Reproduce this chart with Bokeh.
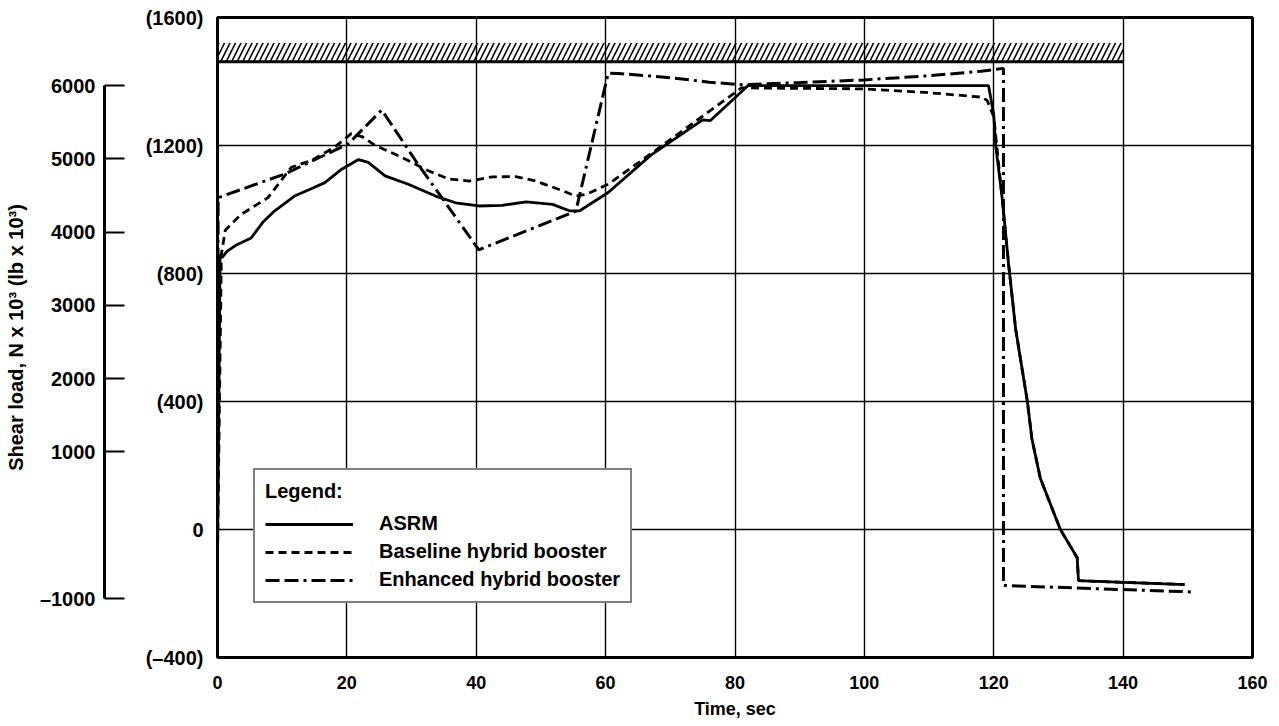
from bokeh.plotting import figure
from bokeh.models import (Range1d, LinearAxis, FixedTicker, Legend, LegendItem)
from bokeh.embed import file_html
from bokeh.resources import INLINE

FONT = "Liberation Sans"

# Shear load histories, time in sec, load in lb x 10^3
asrm_t = [0, 0.4, 0.7, 1.5, 3.0, 5.2, 7.0, 8.8, 11.9, 14.5, 16.6, 19.2, 21.8, 23.3,
          25.9, 29.5, 33.7, 36.8, 40.4, 44.0, 47.7, 51.8, 54.4, 56.0, 60.4, 67.0,
          75.0, 76.2, 82.0, 100.0, 119.2, 120.0, 120.3, 121.3, 122.3, 123.4, 125.2,
          125.9, 127.2, 128.8, 130.3, 132.9, 133.1, 140.0, 149.5]
asrm_lb = [-85, 860, 850, 870, 890, 911, 960, 995, 1042, 1065, 1084, 1126, 1156, 1147,
           1105, 1079, 1042, 1021, 1011, 1013, 1024, 1016, 996, 996, 1053, 1170,
           1280, 1278, 1387, 1387, 1387, 1296, 1200, 1036, 828, 624, 400,
           283, 160, 77, 0, -88, -160, -165, -172]

base_t = [0, 0.6, 1.2, 3.6, 7.8, 11.4, 14.5, 18.1, 20.7, 22.3, 24.4, 28.5, 32.6, 35.8,
          38.9, 42.5, 46.1, 49.2, 53.4, 55.4, 57.0, 60.4, 67.4, 81.0, 100.0, 109.4,
          118.2, 119.0, 120.0, 121.3, 122.3, 123.4, 125.2, 125.9, 127.2, 128.8,
          130.3, 132.9, 133.1, 140.0, 149.5]
base_lb = [-85, 860, 935, 984, 1037, 1132, 1153, 1195, 1237, 1228, 1200, 1163, 1121, 1095,
           1089, 1102, 1103, 1089, 1058, 1042, 1047, 1079, 1180, 1380, 1377, 1366,
           1351, 1340, 1290, 1036, 828, 624, 400, 283, 160, 77,
           0, -88, -160, -165, -172]

enh_t = [0, 0.1, 10.4, 20.2, 25.4, 30.6, 40.4, 55.4, 60.4, 62.0, 70.0, 76.0, 81.0,
         90.0, 100.0, 110.0, 118.0, 121.5, 121.5, 150.5]
enh_lb = [-85, 1037, 1111, 1205, 1311, 1153, 874, 995, 1426, 1425, 1412, 1398, 1390,
          1397, 1405, 1418, 1432, 1441, -175, -195]

# Structural limit band
limit_t = [0, 140]
limit_lb = 1462
limit_band_top = 1520

x_ticks = [0, 20, 40, 60, 80, 100, 120, 140, 160]
lb_ticks = [-400, 0, 400, 800, 1200, 1600]
lb_labels = ["(\u2013400)", "0", "(400)", "(800)", "(1200)", "(1600)"]
n_ticks = [-1000, 1000, 2000, 3000, 4000, 5000, 6000]
n_labels = ["\u20131000", "1000", "2000", "3000", "4000", "5000", "6000"]

p = figure(width=1279, height=726, x_range=Range1d(0, 160), y_range=Range1d(-400, 1600),
           output_backend="svg", toolbar_location=None,
           min_border_left=217, min_border_right=27, min_border_top=17,
           min_border_bottom=69, background_fill_color="white",
           border_fill_color="white")

p.outline_line_color = "black"
p.outline_line_width = 3

# grid
p.xgrid.ticker = FixedTicker(ticks=x_ticks[1:-1])
p.ygrid.ticker = FixedTicker(ticks=lb_ticks[1:-1])
for g in (p.xgrid[0], p.ygrid[0]):
    g.grid_line_color = "black"
    g.grid_line_width = 1.4

# x axis
xa = p.xaxis[0]
xa.ticker = FixedTicker(ticks=x_ticks)
xa.axis_line_color = None
xa.major_tick_line_color = None
xa.minor_tick_line_color = None
xa.major_tick_out = 0
xa.major_tick_in = 0
xa.major_label_standoff = 18
xa.major_label_text_font = FONT
xa.major_label_text_font_style = "bold"
xa.major_label_text_font_size = "18px"
xa.major_label_text_color = "black"
xa.axis_label = "Time, sec"
xa.axis_label_standoff = 7
xa.axis_label_text_font = FONT
xa.axis_label_text_font_style = "bold"
xa.axis_label_text_font_size = "18px"
xa.axis_label_text_color = "black"

# lb axis next to the frame
ya = p.yaxis[0]
ya.ticker = FixedTicker(ticks=lb_ticks)
ya.major_label_overrides = {t: s for t, s in zip(lb_ticks, lb_labels)}
ya.axis_line_color = None
ya.major_tick_line_color = None
ya.minor_tick_line_color = None
ya.major_tick_out = 0
ya.major_tick_in = 0
ya.major_label_standoff = 14
ya.major_label_text_font = FONT
ya.major_label_text_font_style = "bold"
ya.major_label_text_font_size = "20px"
ya.major_label_text_color = "black"

# blank strip between the two load scales (white tick on white border)
gap = LinearAxis(ticker=FixedTicker(ticks=[-400]), axis_line_color=None,
                 major_tick_out=38, major_tick_in=0, major_label_standoff=0,
                 major_label_overrides={-400: ""},
                 minor_tick_line_color=None, major_tick_line_color="white")
p.add_layout(gap, "left")

# newton scale
p.extra_y_ranges = {"newton": Range1d(-1805, 6928)}
na = LinearAxis(y_range_name="newton", bounds=(-1000, 6000),
                ticker=FixedTicker(ticks=n_ticks))
na.major_label_overrides = {t: s for t, s in zip(n_ticks, n_labels)}
na.axis_line_width = 3
na.axis_line_color = "black"
na.major_tick_in = 20
na.major_tick_out = 0
na.major_tick_line_width = 2
na.major_tick_line_color = "black"
na.minor_tick_line_color = None
na.major_label_standoff = 9
na.major_label_text_font = FONT
na.major_label_text_font_style = "bold"
na.major_label_text_font_size = "20px"
na.major_label_text_color = "black"
na.axis_label = "Shear load, N x 10\u00b3 (lb x 10\u00b3)"
na.axis_label_standoff = 10
na.axis_label_text_font = FONT
na.axis_label_text_font_style = "bold"
na.axis_label_text_font_size = "20px"
na.axis_label_text_color = "black"
p.add_layout(na, "left")

# hatched limit band
p.quad(left=[limit_t[0]], right=[limit_t[1]], bottom=[limit_lb], top=[limit_band_top],
       fill_color=None, line_color=None, hatch_pattern="/", hatch_color="black",
       hatch_weight=1.6, hatch_scale=11)
p.line(x=limit_t, y=[limit_lb, limit_lb], line_color="black", line_width=3)

r_asrm = p.line(asrm_t, asrm_lb, line_color="black", line_width=2.8)
r_base = p.line(base_t, base_lb, line_color="black", line_width=2.8, line_dash="8 5")
r_enh = p.line(enh_t, enh_lb, line_color="black", line_width=3,
               line_dash="14 5 14 5 3 5")

legend = Legend(items=[LegendItem(label="ASRM", renderers=[r_asrm]),
                       LegendItem(label="Baseline hybrid booster", renderers=[r_base]),
                       LegendItem(label="Enhanced hybrid booster", renderers=[r_enh])],
                title="Legend:", location=(36, 54))
legend.title_text_font = FONT
legend.title_text_font_style = "bold"
legend.title_text_font_size = "20px"
legend.title_text_color = "black"
legend.title_standoff = 9
legend.label_text_font = FONT
legend.label_text_font_style = "bold"
legend.label_text_font_size = "20px"
legend.label_text_color = "black"
legend.label_height = 22
legend.glyph_height = 22
legend.glyph_width = 88
legend.label_standoff = 26
legend.spacing = 5
legend.padding = 10
legend.margin = 0
legend.border_line_color = "black"
legend.border_line_width = 2.5
legend.background_fill_color = "white"
legend.background_fill_alpha = 1.0
p.add_layout(legend)

open("out.html", "w").write(file_html(p, INLINE))
